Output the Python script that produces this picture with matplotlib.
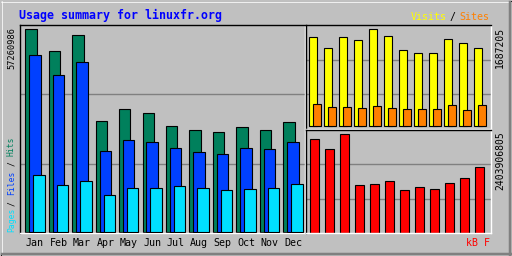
import matplotlib
matplotlib.use('Agg')
import matplotlib.pyplot as plt
from matplotlib.lines import Line2D

months = ['Jan', 'Feb', 'Mar', 'Apr', 'May', 'Jun', 'Jul', 'Aug', 'Sep', 'Oct', 'Nov', 'Dec']
hits = [57260986, 51066000, 55571000, 31353000, 34732000, 33606000,
        29945000, 28818000, 28255000, 29663000, 28818000, 31071000]
files = [49939000, 44307000, 47968000, 22904000, 26002000, 25439000,
         23749000, 22623000, 22060000, 23749000, 23468000, 25439000]
pages = [16146000, 13330000, 14456000, 10513000, 12485000, 12485000,
         13048000, 12485000, 11922000, 12203000, 12485000, 13611000]
visits = [1549000, 1360000, 1549000, 1498000, 1687205, 1567000,
          1326000, 1274000, 1274000, 1515000, 1446000, 1360000]
sites = [379000, 327000, 327000, 310000, 344000, 310000,
         293000, 293000, 293000, 362000, 275000, 362000]
kbytes = [2281674000, 2037209000, 2403906805, 1157135000, 1181581000, 1254921000,
          1034902000, 1108242000, 1059349000, 1206028000, 1328260000, 1597172000]

W, H = 512, 256
BG = '#C0C0C0'
GRID = '#808080'
C_HITS, C_FILES, C_PAGES = '#00805C', '#0040FF', '#00E0FF'
C_VISITS, C_SITES, C_KB = '#FFFF00', '#FF8000', '#FF0000'
MONO = 'DejaVu Sans Mono'

fig = plt.figure(figsize=(W / 100, H / 100), dpi=100, facecolor=BG)


def box(x0, y0, x1, y1):
    return [x0 / W, 1 - y1 / H, (x1 - x0) / W, (y1 - y0) / H]


def fx(x):
    return x / W


def fy(y):
    return 1 - y / H


def line(x0, y0, x1, y1, color, lw=1.0):
    fig.add_artist(Line2D([fx(x0), fx(x1)], [fy(y0), fy(y1)], color=color, lw=lw * 0.72))


def panel(ax, ybot, ytop):
    ax.set_facecolor(BG)
    ax.set_xticks([])
    ax.set_yticks([])
    ax.spines['top'].set_color('black')
    ax.spines['left'].set_color('black')
    ax.spines['bottom'].set_color('white')
    ax.spines['right'].set_color('white')
    for s in ax.spines.values():
        s.set_linewidth(1.0)
    ax.set_ylim(ybot, ytop)
    for f in (1 / 3, 2 / 3):
        ax.axhline(ybot + f * (ytop - ybot), color=GRID, lw=1.0, zorder=0)


# outer frame
line(0.5, 0.5, 511.5, 0.5, 'black')
line(0.5, 0.5, 0.5, 255.5, 'black')
line(0.5, 255.5, 511.5, 255.5, 'black')
line(511.5, 0.5, 511.5, 255.5, 'black')
line(1.5, 1.5, 509.5, 1.5, 'white', 1.5)
line(1.5, 1.5, 1.5, 253.5, 'white', 1.5)
line(1.5, 253.8, 510.5, 253.8, GRID, 2.5)
line(509.8, 1.5, 509.8, 254.5, GRID, 2.5)

# main chart: hits / files / pages
ax = fig.add_axes(box(20, 25, 304.5, 233))
u = max(hits) / 203.3
panel(ax, -0.6 * u, (232.7 - 25) * u)
ax.set_xlim(-0.226, 11.91)
bw = 0.486
for i in range(12):
    ax.bar(i, hits[i], bw, align='edge', color=C_HITS, edgecolor='black', lw=0.8, zorder=2)
    ax.bar(i + 0.17, files[i], bw, align='edge', color=C_FILES, edgecolor='black', lw=0.8, zorder=3)
    ax.bar(i + 0.34, pages[i], bw, align='edge', color=C_PAGES, edgecolor='black', lw=0.8, zorder=4)

# visits / sites
ax2 = fig.add_axes(box(306, 25, 491, 129))
u = max(visits) / 96.7
panel(ax2, -3 * u, (126 - 25) * u)
ax2.set_xlim(-0.22, 12.11)
for i in range(12):
    ax2.bar(i, visits[i], 0.49, align='edge', color=C_VISITS, edgecolor='black', lw=0.8, zorder=2)
    ax2.bar(i + 0.267, sites[i], 0.49, align='edge', color=C_SITES, edgecolor='black', lw=0.8, zorder=3)

# kbytes
ax3 = fig.add_axes(box(306, 130, 491, 233))
u = max(kbytes) / 98.4
panel(ax3, -0.5 * u, (232.7 - 130) * u)
ax3.set_xlim(-0.287, 12.05)
for i in range(12):
    ax3.bar(i, kbytes[i], 0.6, align='edge', color=C_KB, edgecolor='black', lw=0.8, zorder=2)

# texts
fig.text(fx(19), fy(15.5), 'Usage summary for linuxfr.org', color='#0000FF', family=MONO,
         weight='bold', fontsize=8.4, ha='left', va='center')
fig.text(fx(411), fy(17), 'Visits', color=C_VISITS, family=MONO, fontsize=7.2, ha='left', va='center')
fig.text(fx(449), fy(17), '/', color='black', family=MONO, fontsize=7.2, ha='left', va='center')
fig.text(fx(459), fy(17), 'Sites', color=C_SITES, family=MONO, fontsize=7.2, ha='left', va='center')

fig.text(fx(12), fy(27), str(max(hits)), color='black', family=MONO, fontsize=6.2,
         rotation=90, ha='center', va='top')
fig.text(fx(500), fy(27), str(max(visits)), color='black', family=MONO, fontsize=7,
         rotation=90, ha='center', va='top')
fig.text(fx(500), fy(131), str(max(kbytes)), color='black', family=MONO, fontsize=7,
         rotation=90, ha='center', va='top')

for txt, ypos, col in [('Pages', 232.5, C_PAGES), ('/', 206.5, 'black'), ('Files', 195, C_FILES),
                       ('/', 166.5, 'black'), ('Hits', 155.5, C_HITS)]:
    fig.text(fx(11.5), fy(ypos), txt, color=col, family=MONO, fontsize=5.8,
             rotation=90, ha='center', va='bottom')

for i, m in enumerate(months):
    xc = 25.3 + i * 23.45 + 9.7
    fig.text(fx(xc), fy(242.5), m, color='black', family=MONO, fontsize=7.2, ha='center', va='center')
fig.text(fx(490.5), fy(242.5), 'kB F', color=C_KB, family=MONO, fontsize=7.2, ha='right', va='center')

fig.savefig('out.png', dpi=100, facecolor=BG)
